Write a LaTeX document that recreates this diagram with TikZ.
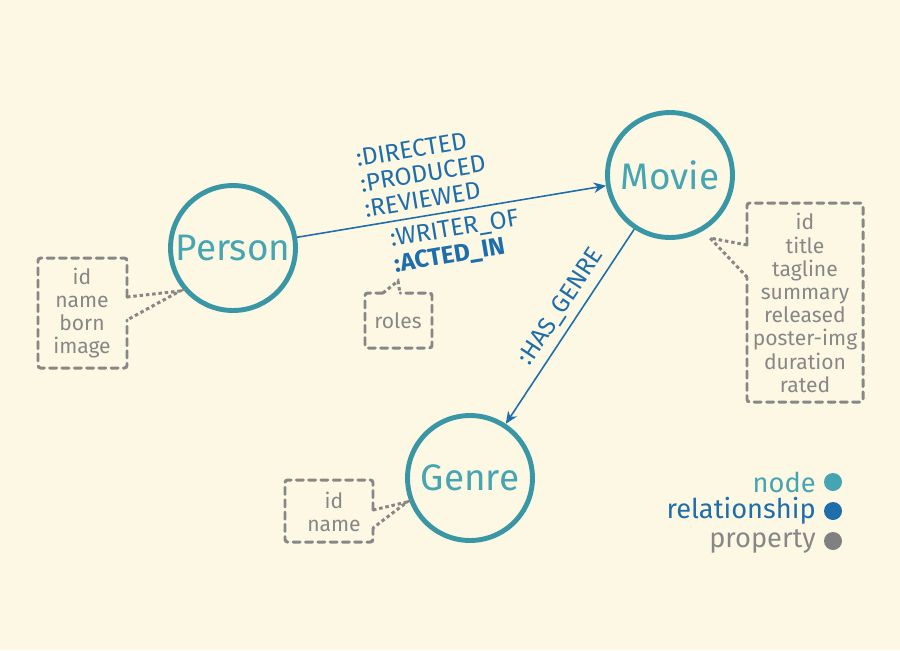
\documentclass[tikz,border=0pt]{standalone}
\usepackage{fontspec}
\setmainfont{Fira Sans}
\usetikzlibrary{arrows.meta}
\definecolor{gdBg}{HTML}{FDF8E4}
\definecolor{gdNode}{HTML}{3996A5}
\definecolor{gdNodeText}{HTML}{45A5B3}
\definecolor{gdRel}{HTML}{1F6EAC}
\definecolor{gdProp}{HTML}{878787}
\begin{document}
\begin{tikzpicture}[x=0.02cm, y=-0.02cm]
% Movie graph data model, one unit is one pixel of the sketch
\providecommand{\gdNodeLineWidth}{2.8pt}
\providecommand{\gdRelLineWidth}{0.9pt}
\providecommand{\gdPropLineWidth}{1.7pt}
\tikzset{
  entity/.style={circle, draw=gdNode, fill=gdBg, line width=\gdNodeLineWidth,
    minimum size=2.5cm, inner sep=0pt, text=gdNodeText, font=\fontsize{21}{24}\selectfont},
  rel/.style={draw=gdRel, line width=\gdRelLineWidth, -{Stealth[length=7pt, width=6pt]}},
  rellabel/.style={text=gdRel, font=\fontsize{14}{14.6}\selectfont, align=left, inner sep=1pt},
  propbox/.style={draw=gdProp, line width=\gdPropLineWidth, dash pattern=on 4pt off 3pt,
    rounded corners=1.5pt, line cap=round},
  proppointer/.style={draw=gdProp, line width=\gdPropLineWidth, dash pattern=on 2pt off 1.6pt},
  proptext/.style={text=gdProp, font=\fontsize{12}{13.2}\selectfont, align=center},
  legendtext/.style={anchor=east, font=\fontsize{15.5}{16}\selectfont, inner sep=0pt}
}
% Background
\fill[gdBg] (0,0) rectangle (900,650);
\useasboundingbox (0,0) rectangle (900,650);
% Nodes
\node[entity] (person) at (233,248) {Person};
\node[entity] (movie) at (670,175) {Movie};
\node[entity] (genre) at (470,478) {Genre};
% Relationships
\draw[rel] (person) --
  node[rellabel, pos=0.43, sloped, above=3pt] (reltypes) {:DIRECTED\\:PRODUCED\\:REVIEWED}
  node[rellabel, pos=0.5, sloped, below=3pt] (reltypes2) {:WRITER\_OF\\\textbf{:ACTED\_IN}}
  (movie);
\draw[rel] (movie) --
  node[rellabel, pos=0.45, sloped, above=3pt] (hasgenre) {:HAS\_GENRE}
  (genre);
% Properties of Person
\draw[propbox] (127,297) -- (127,258) -- (38,258) -- (38,368) -- (127,368) -- (127,320);
\draw[proppointer] (127,297) -- (180,291) -- (127,320);
\node[proptext] (personprops) at (82,313) {id\\name\\born\\image};
% Properties of Movie
\draw[propbox] (747,245) -- (747,203) -- (863,203) -- (863,402) -- (747,402) -- (747,277);
\draw[proppointer] (747,245) -- (710,238) -- (747,277);
\node[proptext] (movieprops) at (805,303)
  {id\\title\\tagline\\summary\\released\\poster-img\\duration\\rated};
% Properties of Genre
\draw[propbox] (373,510) -- (373,480) -- (285,480) -- (285,542) -- (373,542) -- (373,528);
\draw[proppointer] (373,510) -- (407,502) -- (373,528);
\node[proptext] (genreprops) at (334,512) {id\\name};
% Properties of ACTED_IN
\draw[propbox] (383,293) -- (365,293) -- (365,348) -- (432,348) -- (432,293) -- (400,293);
\draw[proppointer] (383,293) -- (398,281) -- (400,293);
\node[proptext] (actedprops) at (398,321) {roles};
% Legend
\node[legendtext, text=gdNodeText] (lgnode) at (816,482) {node};
\node[legendtext, text=gdRel] (lgrel) at (816,511) {relationship};
\node[legendtext, text=gdProp] (lgprop) at (816,541) {property};
\fill[gdNodeText] (833,482) circle (9);
\fill[gdRel] (833,511) circle (9);
\fill[gdProp!95!black] (833,541) circle (9);
\end{tikzpicture}
\end{document}
